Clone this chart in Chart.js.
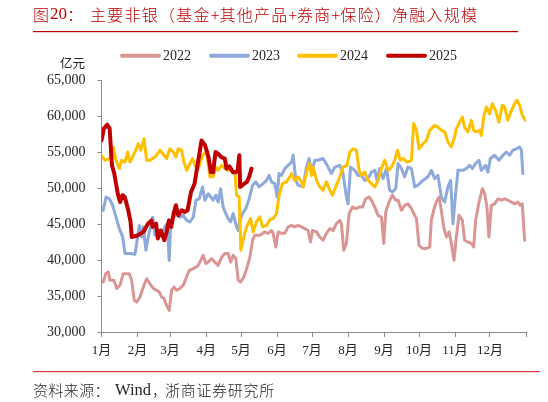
<!DOCTYPE html>
<html>
<head>
<meta charset="utf-8">
<script src="https://cdn.jsdelivr.net/npm/chart.js@4"></script>
<style>
  body { margin: 0; background: #fff; }
  #c { position: absolute; left: 0; top: 0; }
</style>
</head>
<body>
<canvas id="c" width="548" height="402"></canvas>
<script>
// x = day of the year, y = 亿元
var s2022 = [[1.5,36950],[3.6,38100],[5.8,38350],[7.3,37200],[10.7,37200],[13.1,36050],[15.9,36500],[18.7,38100],[23.9,38100],[25.9,37200],[28.2,34400],[30.2,34150],[33.1,34850],[35.9,36250],[38.8,37400],[41.7,36700],[44.5,36050],[47.4,35800],[49.7,35550],[51.7,34850],[53.7,34650],[56,33700],[58.2,33000],[60.3,35800],[62.3,36250],[64.6,35800],[67.4,36050],[70.3,36500],[73.2,37650],[75.4,38550],[78.9,38800],[83.2,39250],[87.4,40650],[89.8,39500],[91.7,39700],[94.7,40200],[97.5,39700],[100.3,39250],[103.3,40400],[106.1,40900],[108.9,40900],[111,39700],[113.2,40650],[115.5,40200],[117.5,37200],[119.6,36950],[122.4,37650],[125.2,39000],[127.6,40400],[129.9,42750],[131.9,43450],[136.2,43450],[140.4,43900],[143.3,43700],[146.2,44100],[147.6,43700],[149.9,41800],[151.9,43900],[154.8,43700],[157.6,43700],[160.5,44600],[163.4,44800],[166.2,44600],[169,44800],[172,44600],[174.8,44350],[177.6,44100],[179.7,42500],[181.4,44100],[184.9,43900],[187.7,43200],[190.5,42750],[193.4,43700],[196.3,44350],[199.1,44100],[202,45050],[204.9,45500],[206.3,45050],[208.3,41350],[210.6,42300],[212.9,46450],[215.8,47350],[218.6,47150],[221.5,47350],[224.4,47350],[227.2,48500],[230,48750],[232.1,48300],[235,47350],[237.8,46200],[240.7,45950],[242.7,42300],[244.4,46650],[247.2,48050],[250.1,49000],[253,48300],[255,48300],[257.9,46900],[260.7,47600],[263.5,47800],[266.5,47150],[268.4,46450],[270.8,45750],[273,42050],[275.9,41600],[279.4,41600],[282.2,41800],[283.6,45500],[285.6,46900],[287.9,48050],[290.2,48750],[292.2,46900],[294.2,44600],[296.5,43200],[298.8,43900],[300.8,42300],[303.1,39950],[305.1,43200],[307.4,46200],[310.3,45500],[312.2,42750],[315.1,42500],[318,42300],[320,41800],[321.7,45500],[324.6,48050],[327.5,49900],[329.5,49200],[331.4,47350],[333.1,43200],[335.2,47600],[338,47800],[340.9,48500],[343.8,48300],[346.6,48500],[349.4,48300],[352.4,48050],[355.2,47800],[358,48050],[360.1,47600],[361.8,47800],[363.8,42750]];

var s2023 = [[1.5,46900],[3.9,48750],[6.7,48500],[9.6,47600],[12.5,45950],[15.3,44350],[18.2,43200],[20.2,40900],[24.5,40900],[28.8,40800],[30.2,42300],[32.5,44800],[34.5,43200],[35.9,44600],[38.2,41350],[40.2,43200],[44,45950],[46,43450],[48.8,44100],[51.7,43450],[54.5,44600],[56.5,45050],[58.2,39950],[59.4,44600],[61.7,45750],[64.6,46650],[67.4,45950],[70.3,46200],[73.2,45500],[76,45300],[78.9,45950],[81.2,48300],[84,48500],[86.9,50150],[88.9,48300],[91.7,49200],[94.1,48750],[96,48300],[98.4,49000],[100.3,48050],[102.4,49900],[104.6,47350],[106.9,46450],[108.9,45750],[111,45300],[113.2,46450],[116.1,44600],[117.5,44100],[119,45500],[121.3,46450],[124.1,47150],[127,48500],[129.9,50400],[132.7,50850],[135.5,50150],[139,50600],[141.9,51050],[144.1,51750],[146.2,50850],[149,50600],[151,48750],[152.7,52000],[154.8,51750],[157.6,52700],[160.5,53150],[163.4,53600],[164.8,54550],[167.1,51050],[169,50400],[173.3,50150],[176.3,52900],[178.5,54100],[180.6,52200],[183.4,53850],[186.2,53850],[190.5,54100],[194,53150],[197.7,52000],[200.6,52900],[204.9,53150],[207.7,52000],[210.6,48750],[212,47800],[214.1,52900],[217.8,52450],[220.6,51750],[223.5,51750],[226.4,51050],[229.2,51300],[232.1,52200],[235,52450],[236.9,51050],[239.2,52700],[242.1,51300],[245,52700],[247.8,49700],[250.1,49450],[253,49900],[255,53400],[257.9,52700],[260.7,51550],[263.5,52900],[266.5,52700],[269.3,50150],[272.1,50400],[276.4,51050],[280.7,51550],[283.6,52450],[286.5,51300],[289.3,51750],[292.2,48750],[295.1,48050],[297.9,50150],[300.2,51050],[302.2,45050],[304.5,49200],[306.5,52450],[310.8,52450],[313.7,52700],[316.5,53150],[318.9,52700],[321.7,53400],[324.6,53850],[326.6,52450],[330.3,53150],[332.3,52200],[334.3,54100],[338,54550],[341.7,53850],[345.2,54550],[348.1,55000],[350.9,54550],[353.8,55250],[356.7,55450],[359.5,55700],[361,55250],[362.3,52000]];

var s2024 = [[0,54500],[3,53850],[7.3,54100],[10.1,55700],[12.5,53850],[15.3,52700],[17.4,53850],[20.2,53600],[22.5,55000],[24.5,53600],[28.8,55000],[31.6,56150],[33.9,55250],[36.5,56850],[38.8,53850],[41.7,53850],[46,54300],[50.3,55250],[53.7,54550],[56,54100],[58.8,55450],[61.7,55000],[64,54300],[66,55450],[68.9,55250],[70.9,53600],[73.2,52450],[75.4,53150],[78.3,54100],[80.3,53150],[83.2,52700],[86.9,54550],[90.4,55000],[93.2,51550],[96,51550],[98.4,52900],[100.3,52450],[103.3,53150],[106.1,52700],[108.9,52450],[111.8,52450],[114.7,52200],[116.1,49000],[118.4,48750],[119.8,41350],[121.8,42750],[124.7,44600],[128.2,45750],[130.4,43900],[133.3,45300],[136.2,46000],[138.5,44600],[141.9,44800],[144.7,45600],[147.6,45750],[150.5,46450],[152.7,49000],[155.6,50600],[159.1,50850],[161.9,51550],[163.4,52000],[166.2,51050],[169,51550],[172,50850],[173.3,50150],[176.8,52450],[178.5,53400],[180.6,51750],[181.9,52900],[184.9,51050],[187.7,50150],[190.5,49700],[193.4,50850],[196.3,49700],[198.6,49000],[201.4,50150],[204.9,51550],[207.7,52900],[211.1,53150],[213.5,55000],[216.3,55450],[219.2,55250],[221.5,52450],[223.5,51750],[226.4,52200],[229.2,51050],[232.1,50600],[235,50150],[237.8,51050],[240.7,52700],[243.5,53850],[246.4,52450],[249.3,52900],[252.1,53850],[254.4,55250],[257,53850],[259.3,54100],[262.7,53600],[266.5,53850],[268.4,58950],[270.8,58000],[273,55450],[276.4,56150],[279.4,56600],[282.2,58000],[286.5,58700],[289.3,58450],[292.2,58000],[295.1,57800],[297.9,56400],[300.8,55700],[303.6,57100],[305.1,58250],[307.9,59150],[310.3,59850],[312.2,58450],[315.1,57800],[318,59400],[320,58000],[322.3,57800],[325.1,58000],[326.6,57300],[328.6,59850],[330.9,61250],[333.7,60300],[336,61700],[338.9,60750],[341.7,59150],[344.6,61500],[346.6,61250],[349.4,59400],[352.4,60750],[355.2,61700],[357.2,62200],[359.5,61500],[361.8,60100],[364.6,59400]];

var s2025 = [[0,56600],[2,58250],[5,58800],[7,58250],[9,53150],[11,52000],[14,49200],[16,48050],[18,49000],[20,48750],[23,46900],[25,45300],[26,43200],[31,43400],[36,43900],[40,45050],[43,45500],[44,44600],[47,45050],[48.5,43000],[51,44100],[54,42750],[56,43900],[58,45500],[60,44600],[62,46450],[64,47600],[66,46200],[69,46900],[71.5,46650],[74,46900],[77,49450],[80,50600],[83,53600],[86,56600],[89,55950],[92,54300],[94,52200],[96,52200],[98,55000],[100,54800],[103,54300],[106,54100],[107.5,52700],[110,53000],[113,52200],[115,52200],[117,52350],[118.5,54550],[119.2,50150],[122,50500],[125,50850],[127,51550],[129,52700]];

var seriesNames = ['2022', '2023', '2024', '2025'];
var seriesColors = ['#DA9694', '#8EA9DB', '#FFC000', '#C00000'];
var seriesWidths = [3, 3, 3, 4];

var monthStarts = [0, 31, 59, 90, 120, 151, 181, 212, 243, 273, 304, 334, 365];
var monthLabels = ['1月','2月','3月','4月','5月','6月','7月','8月','9月','10月','11月','12月',''];

var titleText = '主要非银（基金+其他产品+券商+保险）净融入规模';
var unitText = '亿元';

var serif = '"Liberation Serif", "Times New Roman", "Noto Sans CJK SC", serif';
var cjk = '"Noto Sans CJK SC", sans-serif';
var axisColor = '#8c8c8c';
var red = '#C00000';

var allSeries = [s2022, s2023, s2024, s2025];
var datasets = allSeries.map(function (s, i) {
  return {
    label: seriesNames[i],
    data: s.map(function (p) { return {x: p[0], y: p[1]}; }),
    borderColor: seriesColors[i],
    borderWidth: seriesWidths[i],
    pointRadius: 0,
    tension: 0,
    borderJoinStyle: 'round',
    borderCapStyle: 'round',
    order: 4 - i
  };
});

var legendX = [122, 211, 299, 388];

// draws CJK text on a fixed advance, half advance for '+'
function spaced(c, text, x, y, adv) {
  for (var i = 0; i < text.length; i++) {
    var ch = text[i];
    if (ch === '+') {
      var w = c.measureText(ch).width;
      c.fillText(ch, x + (adv / 2 - w) / 2, y);
      x += adv / 2;
    } else {
      c.fillText(ch, x, y);
      x += adv;
    }
  }
}

var decor = {
  id: 'decor',
  afterDraw: function (chart) {
    var c = chart.ctx;
    c.save();
    c.textBaseline = 'middle';

    // title
    c.fillStyle = red;
    c.font = '300 16px ' + cjk;
    c.fillText('图', 33, 14.5);
    c.font = '17px ' + serif;
    c.fillText('20', 50, 15);
    c.font = '300 16px ' + cjk;
    c.fillText('：', 67, 14.5);
    spaced(c, titleText, 90, 14.5, 17.25);

    // rules
    c.fillStyle = red;
    c.fillRect(33, 31, 485, 1.2);
    c.fillStyle = '#D9393B';
    c.fillRect(33, 371, 507, 1.2);

    // source
    c.fillStyle = '#262626';
    c.font = '300 15px ' + cjk;
    spaced(c, '资料来源：', 33, 390, 15.4);
    c.font = '16.5px ' + serif;
    c.fillText('Wind', 115, 390.5);
    c.font = '300 15px ' + cjk;
    c.fillText('，', 152, 390);
    spaced(c, '浙商证券研究所', 165, 390, 15.7);

    c.font = '12.5px ' + cjk;
    c.fillText(unitText, 60, 63);

    // legend
    c.lineCap = 'round';
    for (var i = 0; i < seriesNames.length; i++) {
      c.strokeStyle = seriesColors[i];
      c.lineWidth = 4;
      c.beginPath();
      c.moveTo(legendX[i], 55.7);
      c.lineTo(legendX[i] + 37, 55.7);
      c.stroke();
      c.fillStyle = '#262626';
      c.font = '14px ' + serif;
      c.fillText(seriesNames[i], legendX[i] + 41, 56);
    }
    c.restore();
  }
};

new Chart(document.getElementById('c').getContext('2d'), {
  type: 'line',
  data: {datasets: datasets},
  options: {
    responsive: false,
    animation: false,
    devicePixelRatio: 1,
    layout: {padding: {left: 0, right: 22, top: 80, bottom: 40}},
    plugins: {legend: {display: false}, tooltip: {enabled: false}, title: {display: false}},
    scales: {
      x: {
        type: 'linear',
        min: 0,
        max: 365,
        afterBuildTicks: function (scale) {
          scale.ticks = monthStarts.map(function (v) { return {value: v}; });
        },
        afterFit: function (scale) { scale.height = 30; },
        ticks: {
          autoSkip: false,
          maxRotation: 0,
          padding: 6,
          color: '#262626',
          font: {family: serif, size: 13},
          callback: function (v) {
            var k = monthStarts.indexOf(v);
            return k >= 0 ? monthLabels[k] : '';
          }
        },
        grid: {drawOnChartArea: false, drawTicks: true, tickLength: 5, color: axisColor},
        border: {display: true, color: axisColor, width: 1}
      },
      y: {
        min: 30000,
        max: 65000,
        afterFit: function (scale) { scale.width = 101.5; },
        ticks: {
          stepSize: 5000,
          padding: 12,
          color: '#262626',
          font: {family: serif, size: 14},
          callback: function (v) { return v.toLocaleString('en-US'); }
        },
        grid: {drawOnChartArea: false, drawTicks: true, tickLength: 4, color: axisColor},
        border: {display: true, color: axisColor, width: 1}
      }
    }
  },
  plugins: [decor]
});
</script>
</body>
</html>
